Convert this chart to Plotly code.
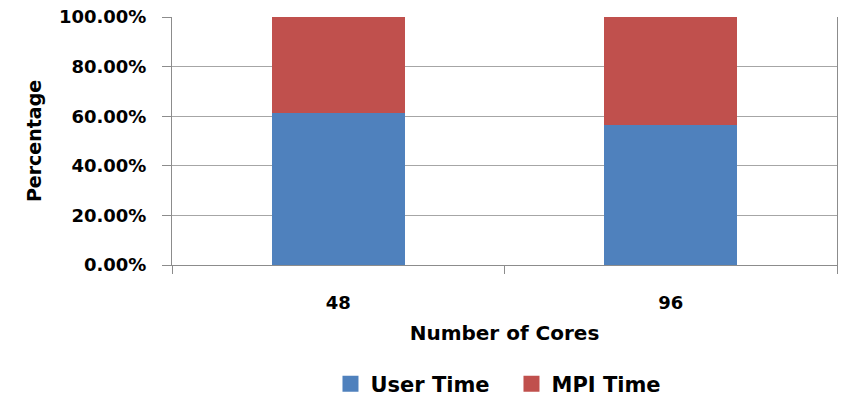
import plotly.graph_objects as go

cores = ["48", "96"]
user_time = [0.613, 0.564]
mpi_time = [0.387, 0.436]
y_ticks = [0.0, 0.2, 0.4, 0.6, 0.8, 1.0]
series_names = ["User Time", "MPI Time"]
series_colors = ["#4F81BD", "#C0504D"]

FONT = "DejaVu Sans"
AX = "#8c8c8c"
GRID = "#a6a6a6"

fig = go.Figure()
for name, vals, col in zip(series_names, [user_time, mpi_time], series_colors):
    fig.add_trace(go.Bar(x=cores, y=vals, name=name, showlegend=False,
                         marker=dict(color=col, line=dict(width=0))))
# legend proxies (larger square swatches like the original)
for name, col in zip(series_names, series_colors):
    fig.add_trace(go.Scatter(x=[None], y=[None], mode="markers", name=name,
                             marker=dict(symbol="square", size=16, color=col),
                             showlegend=True))

fig.update_layout(
    barmode="stack",
    bargap=0.6,
    width=842, height=398,
    margin=dict(l=172, r=5, t=17, b=133, autoexpand=False),
    paper_bgcolor="white", plot_bgcolor="white",
    font=dict(family=FONT, color="#000000"),
    showlegend=True,
    legend=dict(orientation="h", xanchor="center", x=0.5105,
                yref="container", yanchor="middle", y=0.035,
                font=dict(family=FONT, size=21, weight="bold"),
                traceorder="normal", itemclick=False, itemwidth=30,
                itemsizing="trace", entrywidth=136, entrywidthmode="pixels"),
    xaxis=dict(type="category", showline=True, linecolor=AX, linewidth=1,
               automargin=False,
               ticks="outside", tickson="boundaries", ticklen=8, tickcolor=AX,
               tickfont=dict(family=FONT, size=18, weight="bold"),
               ticklabelstandoff=21, showgrid=False, zeroline=False,
               title=dict(text="Number of Cores", standoff=14,
                          font=dict(family=FONT, size=20, weight="bold"))),
    yaxis=dict(range=[0, 1], tickvals=y_ticks, tickformat=".2%",
               automargin=False,
               showline=True, linecolor=AX, linewidth=1, mirror=True,
               ticks="outside", ticklen=9, tickcolor=AX,
               tickfont=dict(family=FONT, size=18, weight="bold"),
               ticklabelstandoff=12,
               showgrid=True, gridcolor=GRID, gridwidth=1, zeroline=False,
               title=dict(text="Percentage", standoff=12,
                          font=dict(family=FONT, size=19, weight="bold"))),
)

fig.write_html("out.html", config={"displayModeBar": False},
               post_script="document.body.style.margin='0';"
                           "document.body.style.overflow='hidden';")
